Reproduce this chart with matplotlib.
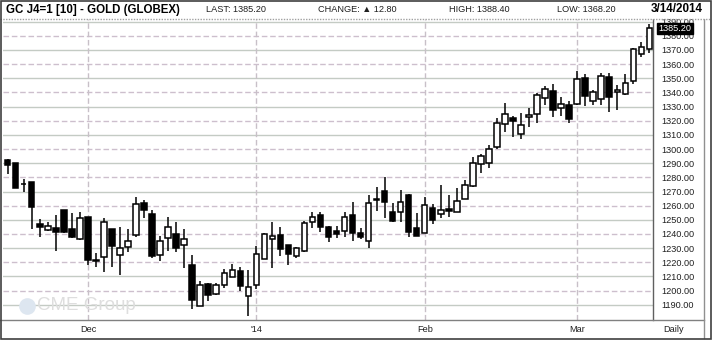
import numpy as np
import matplotlib
matplotlib.use("Agg")
from matplotlib import pyplot as plt
from matplotlib.patches import Rectangle
from matplotlib.lines import Line2D

# daily OHLC, GC J4 gold, mid Nov 2013 .. 3/14/2014
opens = [1292.4, 1290.0, 1275.4, 1276.6, 1247.1, 1243.1, 1244.3, 1257.0, 1243.6, 1236.3,
         1251.8, 1221.9, 1223.6, 1243.4, 1225.0, 1230.6, 1239.4, 1262.2, 1254.2, 1225.2,
         1237.3, 1240.1, 1232.3, 1218.4, 1189.2, 1204.7, 1197.7, 1203.6, 1209.7, 1213.9,
         1196.5, 1203.6, 1222.4, 1236.3, 1239.3, 1232.0, 1224.7, 1227.8, 1248.3, 1253.2,
         1245.0, 1242.2, 1241.9, 1253.2, 1240.5, 1234.9, 1264.5, 1270.2, 1255.4, 1255.4,
         1267.6, 1244.1, 1241.0, 1258.2, 1254.0, 1257.5, 1255.8, 1264.6, 1273.7, 1289.3,
         1290.0, 1301.3, 1317.8, 1321.8, 1310.5, 1322.3, 1324.6, 1335.9, 1341.1, 1328.9,
         1331.0, 1331.7, 1350.1, 1333.8, 1335.7, 1350.8, 1340.2, 1339.0, 1348.0, 1367.0,
         1370.5]
highs = [1292.8, 1290.3, 1278.7, 1277.0, 1250.4, 1248.5, 1253.5, 1257.2, 1255.1, 1255.6,
         1252.0, 1226.4, 1251.1, 1243.6, 1244.8, 1243.4, 1266.0, 1263.9, 1256.6, 1238.9,
         1252.3, 1248.3, 1243.6, 1224.8, 1207.1, 1205.4, 1205.4, 1215.3, 1218.9, 1216.3,
         1214.2, 1231.8, 1240.5, 1248.8, 1244.8, 1232.3, 1231.1, 1249.2, 1255.6, 1255.6,
         1245.3, 1245.5, 1255.6, 1262.4, 1244.1, 1267.4, 1273.0, 1280.1, 1261.7, 1271.2,
         1268.3, 1255.1, 1266.2, 1261.3, 1274.7, 1267.6, 1272.3, 1278.2, 1294.7, 1296.4,
         1302.7, 1322.0, 1332.4, 1323.2, 1325.3, 1329.1, 1339.5, 1344.7, 1346.3, 1336.6,
         1334.1, 1355.3, 1353.1, 1341.8, 1353.6, 1353.6, 1345.4, 1353.1, 1371.3, 1375.8,
         1388.4]
lows = [1282.5, 1272.6, 1270.0, 1243.4, 1238.2, 1242.4, 1228.3, 1240.5, 1236.8, 1236.0,
        1218.4, 1216.3, 1213.0, 1217.0, 1211.3, 1226.9, 1237.7, 1251.2, 1222.9, 1221.0,
        1228.1, 1227.1, 1215.8, 1187.1, 1189.0, 1192.7, 1197.0, 1201.9, 1209.5, 1199.6,
        1182.1, 1201.0, 1222.2, 1215.8, 1224.7, 1218.4, 1222.9, 1227.6, 1244.1, 1241.7,
        1234.0, 1236.8, 1238.2, 1235.0, 1236.3, 1230.4, 1256.3, 1251.6, 1248.1, 1248.1,
        1237.5, 1238.7, 1240.8, 1247.1, 1251.6, 1251.7, 1255.3, 1264.4, 1273.5, 1283.4,
        1286.5, 1299.9, 1312.4, 1308.8, 1307.0, 1315.9, 1318.7, 1330.8, 1322.3, 1323.7,
        1318.7, 1331.0, 1330.5, 1330.8, 1330.8, 1326.5, 1327.5, 1338.1, 1345.8, 1364.9,
        1368.2]
closes = [1288.4, 1272.8, 1275.0, 1258.7, 1244.8, 1245.5, 1241.7, 1241.5, 1238.2, 1251.1,
          1221.9, 1220.7, 1248.3, 1231.8, 1229.9, 1235.1, 1261.3, 1257.0, 1224.1, 1235.1,
          1244.8, 1230.0, 1236.1, 1193.2, 1204.0, 1197.0, 1204.0, 1212.3, 1214.4, 1203.1,
          1202.6, 1226.0, 1239.8, 1238.9, 1229.7, 1225.7, 1229.9, 1247.6, 1251.8, 1245.2,
          1238.2, 1239.8, 1252.0, 1241.0, 1238.2, 1261.9, 1264.0, 1262.9, 1249.5, 1262.4,
          1241.7, 1238.9, 1260.3, 1250.0, 1256.8, 1256.5, 1263.1, 1274.6, 1290.0, 1295.0,
          1299.9, 1318.3, 1324.6, 1319.7, 1316.9, 1324.0, 1338.0, 1342.3, 1327.5, 1331.7,
          1321.1, 1349.8, 1337.4, 1340.2, 1351.5, 1337.1, 1341.8, 1346.5, 1370.6, 1372.4,
          1385.2]

month_idx = [10, 31, 52, 71]
month_labels = ["Dec", "'14", "Feb", "Mar"]
price_ticks = list(range(1190, 1400, 10))

W, H = 712, 340
fig = plt.figure(figsize=(W / 100, H / 100), dpi=100)
fig.patch.set_facecolor("white")

def fx(x):
    return x / W

def fy(y):
    return 1 - y / H

# plot box in pixels
L, R, T, B = 3, 653, 19, 320
ax = fig.add_axes([fx(L), fy(B), fx(R) - fx(L), fy(T) - fy(B)])
ax.set_xlim(-0.586, 80.46)
ax.set_ylim(1179.2, 1391.9)

# grid
for p in price_ticks:
    if p % 20 == 0:
        ax.axhline(p, color="#cdbfcd", lw=1.0, ls=(0, (4, 2)), zorder=1)
    else:
        ax.axhline(p, color="#c4cbc4", lw=1.0, zorder=1)
for i in month_idx:
    ax.axvline(i, color="#c8c0c8", lw=1.0, ls=(0, (4, 2)), zorder=1)

# candles
n = len(opens)
for i in range(n):
    o, h, l, c = opens[i], highs[i], lows[i], closes[i]
    ax.vlines(i, l, h, color="black", lw=1.1, zorder=2)
    lo = min(o, c)
    ht = max(abs(c - o), 0.4)
    fc = "white" if c > o else "black"
    ax.add_patch(Rectangle((i - 0.34, lo), 0.68, ht, facecolor=fc,
                           edgecolor="black", lw=1.1, zorder=3))

ax.yaxis.tick_right()
ax.set_yticks(price_ticks)
ax.set_yticklabels(["%.2f" % p for p in price_ticks],
                   fontsize=6.6, family="Liberation Sans", color="#202020")
ax.tick_params(axis="y", length=0, pad=6)
ax.set_xticks([])
for s in ["left", "top", "bottom"]:
    ax.spines[s].set_visible(False)
ax.spines["right"].set_color("#606060")
ax.spines["right"].set_linewidth(1.0)

# last price box
ax.annotate("%.2f" % closes[-1], xy=(1.0, closes[-1]),
            xycoords=("axes fraction", "data"), xytext=(4, 0),
            textcoords="offset points", ha="left", va="center",
            fontsize=6.6, family="Liberation Sans", color="white",
            bbox=dict(boxstyle="square,pad=0.15", fc="black", ec="black"),
            annotation_clip=False, zorder=10)

# watermark
fig.add_artist(Line2D([fx(27)], [fy(306)], marker="o", markersize=12,
                      markerfacecolor="#dde6f0", markeredgecolor="none",
                      transform=fig.transFigure))
fig.text(fx(37), fy(306), "CME Group", fontsize=13.5, family="Liberation Sans",
         color="#dedede", ha="left", va="center")

# header cover and texts
fig.add_artist(Rectangle((0, fy(T)), 1, 1 - fy(T), transform=fig.transFigure,
                         facecolor="white", edgecolor="none", zorder=5))
fig.add_artist(Line2D([fx(0), fx(710)], [fy(T), fy(T)], transform=fig.transFigure,
                      color="#a0a0a0", lw=1.0, ls=(0, (1, 1)), zorder=6))
fig.text(fx(6), fy(9.5), "GC J4=1 [10] - GOLD (GLOBEX)", fontsize=8.3, weight="bold",
         family="Liberation Sans", ha="left", va="center", zorder=7)
hdr = dict(fontsize=6.6, family=["Liberation Sans", "DejaVu Sans"], ha="left",
           va="center", color="#202020", zorder=7)
fig.text(fx(206), fy(10), "LAST: 1385.20", **hdr)
fig.text(fx(318), fy(10), "CHANGE: \u25b2 12.80", **hdr)
fig.text(fx(449), fy(10), "HIGH: 1388.40", **hdr)
fig.text(fx(557), fy(10), "LOW: 1368.20", **hdr)
fig.text(fx(703), fy(9.5), "3/14/2014", fontsize=8.4, weight="bold",
         family="Liberation Sans", ha="right", va="center", zorder=7)

# bottom date row
fig.add_artist(Line2D([fx(0), fx(704)], [fy(B), fy(B)], transform=fig.transFigure,
                      color="#808080", lw=1.0))
xs_px = [7.7 + 8.02 * i for i in month_idx]
for xp, lab in zip(xs_px, month_labels):
    fig.text(fx(xp), fy(330), lab, fontsize=6.6, family="Liberation Sans",
             ha="center", va="center", color="#202020")
fig.text(fx(674), fy(330), "Daily", fontsize=6.6, family="Liberation Sans",
         ha="center", va="center", color="#202020")

# frames
fig.add_artist(Line2D([fx(704), fx(704)], [fy(T), fy(338)], transform=fig.transFigure,
                      color="#909090", lw=1.0))
fig.add_artist(Rectangle((fx(0.5), fy(339)), fx(710), fy(0.5) - fy(339),
                         transform=fig.transFigure, facecolor="none",
                         edgecolor="#404040", lw=1.2, zorder=8))

fig.savefig("out.png", dpi=100)
